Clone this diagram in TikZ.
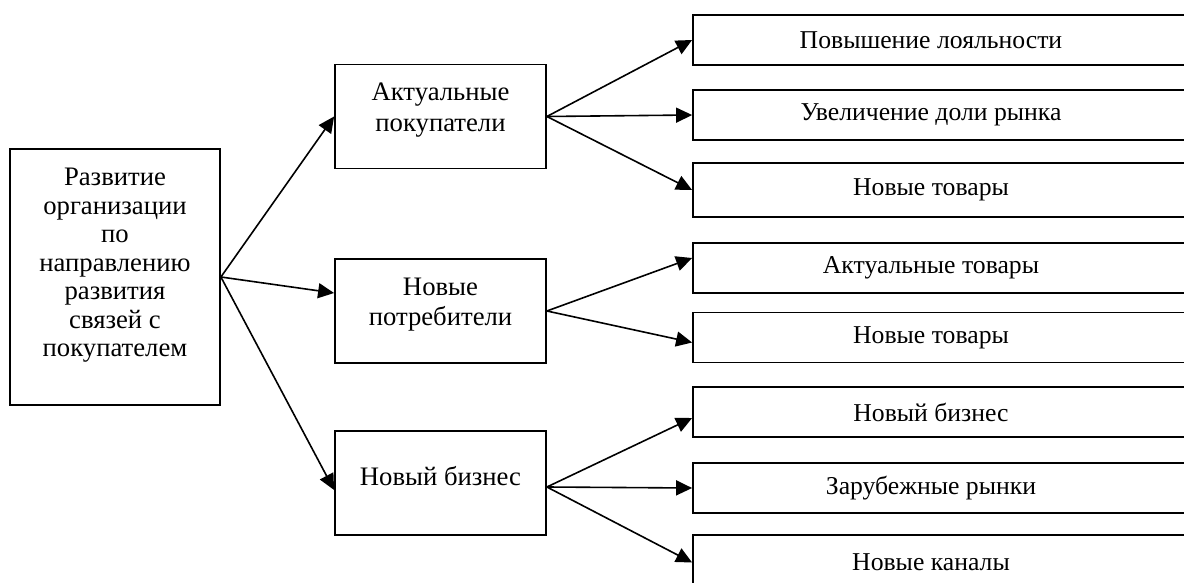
\documentclass[tikz,border=0pt]{standalone}
\usepackage{fontspec}
\setmainfont{Liberation Serif}
\usetikzlibrary{shapes,arrows.meta}

\begin{document}
\begin{tikzpicture}[x=1pt, y=-1pt]

    % Define block styles
    \tikzstyle{block} = [rectangle, draw, line width=1.8pt, align=center,
        inner sep=0pt, font=\fontsize{26.7}{30.5}\selectfont]
    \tikzstyle{midbox} = [block, minimum width=211pt, minimum height=104pt]
    \tikzstyle{goalbox} = [block, minimum width=500pt, minimum height=50pt,
        font=\fontsize{25.7}{29}\selectfont,
        execute at end node={\hspace{24pt}}]
    \tikzstyle{line} = [draw, line width=1.6pt,
        -{Triangle[length=16pt, width=15pt]}]

    \useasboundingbox (0,0) rectangle (1184,583);

    % Place nodes
    \node [block, minimum width=210pt, minimum height=256pt,
        font=\fontsize{26.7}{28.5}\selectfont] (root) at (115,277)
        {Развитие\\организации\\по\\направлению\\развития\\связей с\\покупателем\\~};

    \node [midbox] (buyers) at (440.5,116.5) {Актуальные\\покупатели\\[-12pt]~};
    \node [midbox] (consumers) at (440.5,311) {Новые\\потребители\\[-12pt]~};
    \node [midbox] (business) at (440.5,483) {Новый бизнес\\[-16pt]~};

    \node [goalbox] (loyalty) at (943,40) {Повышение лояльности};
    \node [goalbox] (share) at (943,115) {Увеличение доли рынка};
    \node [goalbox, minimum height=54pt] (newgoods) at (943,190) {Новые товары};
    \node [goalbox] (curgoods) at (943,268) {Актуальные товары};
    \node [goalbox] (newgoodsb) at (943,337.5) {Новые товары};
    \node [goalbox] (newbiz) at (943,412) {Новый бизнес};
    \node [goalbox] (foreign) at (943,488) {Зарубежные рынки};
    \node [goalbox, minimum height=55pt] (channels) at (943,562.5) {Новые каналы};

    % Draw edges
    \path [line] (root.east) -- (buyers.west);
    \path [line] (root.east) -- ([yshift=18pt]consumers.west);
    \path [line] (root.east) -- ([yshift=-7pt]business.west);

    \path [line] (buyers.east) -- (loyalty.west);
    \path [line] (buyers.east) -- (share.west);
    \path [line] (buyers.east) -- (newgoods.west);

    \path [line] (consumers.east) -- ([yshift=10pt]curgoods.west);
    \path [line] (consumers.east) -- ([yshift=-5pt]newgoodsb.west);

    \path [line] ([yshift=-4pt]business.east) -- ([yshift=-6pt]newbiz.west);
    \path [line] ([yshift=-4pt]business.east) -- (foreign.west);
    \path [line] ([yshift=-4pt]business.east) -- (channels.west);

\end{tikzpicture}
\end{document}
